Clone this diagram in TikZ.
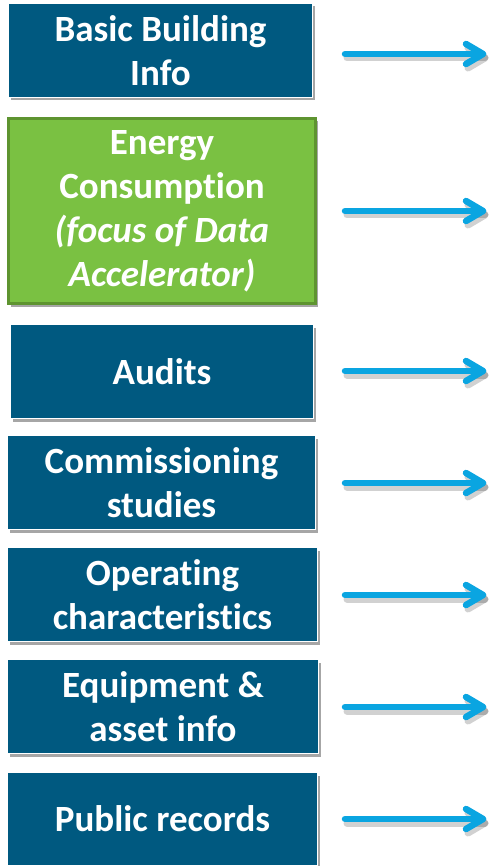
\documentclass[tikz,border=0pt]{standalone}
\usepackage{fontspec}
\setmainfont[Ligatures={NoCommon}]{Carlito}
\usetikzlibrary{shadows,calc}
\definecolor{boxblue}{RGB}{0,89,128}
\definecolor{boxgreen}{RGB}{122,193,66}
\definecolor{greenedge}{RGB}{94,148,48}
\definecolor{arrowblue}{RGB}{10,165,225}
\tikzset{
  basebox/.style={rectangle, inner sep=0pt, align=center, text=white,
    font=\fontsize{37}{44}\selectfont\bfseries,
    drop shadow={shadow xshift=2pt, shadow yshift=-3pt, opacity=0.35, fill=black}},
  bluebox/.style={basebox, fill=boxblue, draw=white, line width=1pt},
  greenbox/.style={basebox, fill=boxgreen, draw=greenedge, line width=3pt},
  arrowline/.style={draw=arrowblue, line width=6.5pt, line cap=round, line join=round},
  arrowshade/.style={draw=black, opacity=0.18, line width=7pt, line cap=round, line join=round},
}
\begin{document}
\begin{tikzpicture}[x=1pt,y=-1pt]
\useasboundingbox (0,0) rectangle (497,866);
% boxes
\node[bluebox, minimum width=304pt, minimum height=94pt] (b1) at (160.5,50.5) {Basic Building\\Info};
\node[greenbox, minimum width=307pt, minimum height=185pt] (b2) at (162,211) {Energy\\Consumption\\\textit{(focus of Data}\\\textit{Accelerator)}};
\node[bluebox, minimum width=303pt, minimum height=94pt] (b3) at (162,371.5) {Audits};
\node[bluebox, minimum width=308pt, minimum height=94pt] (b4) at (161.5,482.5) {Commissioning\\studies};
\node[bluebox, minimum width=310pt, minimum height=94pt] (b5) at (162.5,594.5) {Operating\\characteristics};
\node[bluebox, minimum width=311pt, minimum height=94pt] (b6) at (163,706.5) {Equipment \&\\asset info};
\node[bluebox, minimum width=310pt, minimum height=93pt] (b7) at (162.5,819) {Public records};
% arrows
\foreach \i/\yy in {1/54,2/211,3/371,4/483,5/595,6/707,7/819}{
  \coordinate (s\i) at (345,\yy);
  \coordinate (e\i) at (483,\yy);
  \draw[arrowshade] ($(s\i)+(2,4)$) -- ($(e\i)+(2,4)$);
  \draw[arrowshade] ($(e\i)+(-17,-10)+(2,4)$) -- ($(e\i)+(2,4)$) -- ($(e\i)+(-17,10)+(2,4)$);
  \draw[arrowline] (s\i) -- (e\i);
  \draw[arrowline] ($(e\i)+(-17,-10)$) -- (e\i) -- ($(e\i)+(-17,10)$);
}
\end{tikzpicture}
\end{document}
